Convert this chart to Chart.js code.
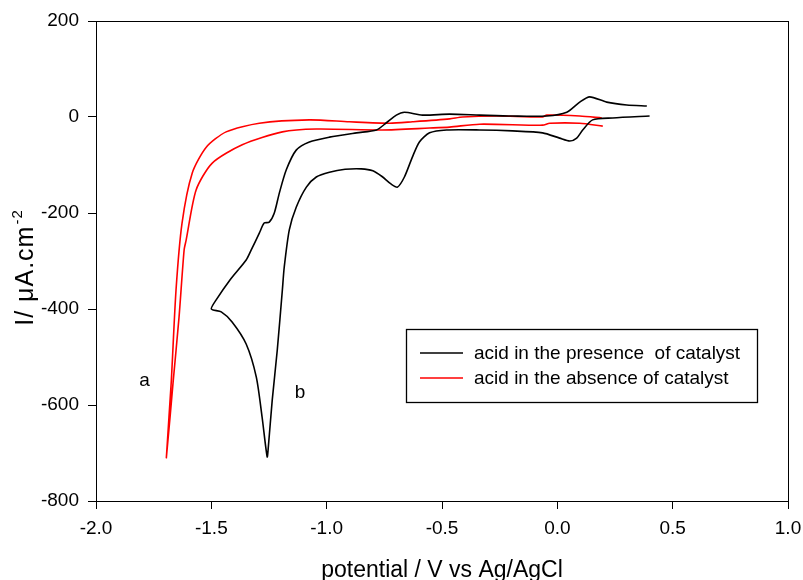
<!DOCTYPE html>
<html lang="en">
<head>
    <meta charset="utf-8">
    <title>CV acid catalyst</title>
    <script src="https://cdn.jsdelivr.net/npm/chart.js"></script>
    <style>
        html, body { margin: 0; padding: 0; background: #fff; overflow: hidden; }
        canvas { display: block; }
    </style>
</head>
<body>
<canvas id="cv" width="803" height="580"></canvas>
<script>
    // curve b: acid in the presence of catalyst (V vs Ag/AgCl, uA/cm2)
    const presV = [0.40, 0.24, 0.153, 0.11, 0.084, 0.054, 0.010, -0.064, -0.194, -0.337, -0.48, -0.554, -0.598, -0.628,
        -0.663, -0.693, -0.72, -0.76, -0.80, -0.85, -0.92, -0.988, -1.045, -1.088, -1.132, -1.162, -1.184, -1.192, -1.214,
        -1.236, -1.253, -1.258, -1.28, -1.305, -1.349, -1.41, -1.457, -1.50,
        -1.479, -1.42, -1.349, -1.327, -1.292, -1.271, -1.249, -1.227, -1.205, -1.175, -1.132, -1.075, -0.988, -0.871,
        -0.784, -0.741, -0.698, -0.663, -0.585, -0.467, -0.337, -0.194, -0.046, 0.041, 0.097, 0.140, 0.214, 0.301, 0.388];
    const presI = [2, -2, -6, -27, -44, -50, -44, -33, -29, -27, -27, -33, -52, -83,
        -125, -146, -140, -124, -112, -108, -109, -115, -125, -146, -188, -235, -313, -360, -485,
        -590, -688, -708, -625, -542, -473, -427, -406, -400,
        -381, -340, -298, -277, -242, -221, -219, -200, -158, -110, -69, -52, -42, -33,
        -27, -12, 4, 10, 4, 6, 4, 2, 2, 10, 31, 42, 31, 25, 23];

    // curve a: acid in the absence of catalyst
    const absV = [0.193, 0.097, -0.046, -0.064, -0.263, -0.411, -0.467, -0.628, -0.728, -0.902, -1.075, -1.292, -1.436,
        -1.522, -1.583, -1.627, -1.653, -1.674, -1.695,
        -1.666, -1.640, -1.618, -1.609, -1.566, -1.496, -1.366, -1.192, -1.045, -0.758, -0.554, -0.467, -0.337,
        -0.064, -0.033, 0.097, 0.197];
    const absI = [-2, 2, 4, 0, 2, 0, -4, -10, -13, -10, -6, -13, -31,
        -63, -117, -221, -360, -554, -710,
        -554, -417, -277, -256, -152, -96, -58, -31, -25, -27, -23, -21, -15,
        -17, -13, -13, -19];

    const xTicks = [-2.0, -1.5, -1.0, -0.5, 0.0, 0.5, 1.0];
    const yTicks = [200, 0, -200, -400, -600, -800];

    const curveTags = [
        { text: 'a', v: -1.79, i: -550 },
        { text: 'b', v: -1.115, i: -575 }
    ];

    const FONT = '"Liberation Sans", Arial, sans-serif';

    const toPts = (xs, ys) => xs.map((v, k) => ({ x: v, y: ys[k] }));

    const extras = {
        id: 'extras',
        afterDraw(chart) {
            const ctx = chart.ctx;
            const a = chart.chartArea;
            const sx = chart.scales.x, sy = chart.scales.y;
            ctx.save();

            // frame
            ctx.strokeStyle = '#000';
            ctx.lineWidth = 1;
            ctx.strokeRect(Math.round(a.left) + 0.5, Math.round(a.top) + 0.5,
                Math.round(a.right - a.left), Math.round(a.bottom - a.top));

            // a / b tags
            ctx.fillStyle = '#000';
            ctx.font = '19px ' + FONT;
            ctx.textAlign = 'center';
            ctx.textBaseline = 'middle';
            curveTags.forEach(t => ctx.fillText(t.text, sx.getPixelForValue(t.v), sy.getPixelForValue(t.i)));

            // legend box
            const bx = 406, by = 329, bw = 351, bh = 73;
            ctx.fillStyle = '#fff';
            ctx.fillRect(bx, by, bw, bh);
            ctx.strokeStyle = '#000';
            ctx.lineWidth = 1.3;
            ctx.strokeRect(bx + 0.5, by + 0.5, bw, bh);
            ctx.textAlign = 'left';
            ctx.font = '19px ' + FONT;
            chart.data.datasets.forEach((ds, k) => {
                const ly = 353 + k * 25;
                ctx.strokeStyle = ds.borderColor;
                ctx.lineWidth = 1.5;
                ctx.beginPath();
                ctx.moveTo(420, ly);
                ctx.lineTo(463, ly);
                ctx.stroke();
                ctx.fillStyle = '#000';
                ctx.fillText(ds.label, 474, ly + 1);
            });

            // x title
            ctx.font = '23px ' + FONT;
            ctx.textAlign = 'center';
            ctx.textBaseline = 'alphabetic';
            ctx.fillText('potential / V vs Ag/AgCl', (a.left + a.right) / 2, 577);

            // y title with superscript
            const main = 'I/ \u03bcA.cm', sup = '-2';
            ctx.translate(33, 268);
            ctx.rotate(-Math.PI / 2);
            ctx.letterSpacing = '1px';
            ctx.font = '25px ' + FONT;
            const w1 = ctx.measureText(main).width;
            ctx.font = '15px ' + FONT;
            const w2 = ctx.measureText(sup).width;
            const x0 = -(w1 + w2) / 2;
            ctx.textAlign = 'left';
            ctx.font = '25px ' + FONT;
            ctx.fillText(main, x0, 0);
            ctx.font = '15px ' + FONT;
            ctx.fillText(sup, x0 + w1 + 1, -11);

            ctx.restore();
        }
    };

    const axisBase = {
        type: 'linear',
        grid: { drawOnChartArea: false, color: '#000', tickLength: 8, tickWidth: 1 },
        border: { display: true, color: '#000', width: 1 },
        title: { display: false }
    };

    new Chart(document.getElementById('cv'), {
        type: 'scatter',
        data: {
            datasets: [{
                label: 'acid in the presence  of catalyst',
                data: toPts(presV, presI),
                showLine: true,
                borderColor: '#000000',
                borderWidth: 1.6,
                pointRadius: 0,
                tension: 0.25,
                fill: false
            }, {
                label: 'acid in the absence of catalyst',
                data: toPts(absV, absI),
                showLine: true,
                borderColor: '#ff0000',
                borderWidth: 1.6,
                pointRadius: 0,
                tension: 0.25,
                fill: false
            }]
        },
        options: {
            responsive: false,
            animation: false,
            devicePixelRatio: 1,
            layout: { padding: { top: 21, right: 15, left: 0, bottom: 0 } },
            plugins: { legend: { display: false }, tooltip: { enabled: false } },
            scales: {
                x: Object.assign({}, axisBase, {
                    position: 'bottom',
                    min: xTicks[0],
                    max: xTicks[xTicks.length - 1],
                    afterBuildTicks: s => { s.ticks = xTicks.map(v => ({ value: v })); },
                    afterFit: s => { s.height = 79; s.paddingLeft = 0; s.paddingRight = 0; },
                    ticks: {
                        color: '#000', padding: 8, maxRotation: 0, autoSkip: false,
                        font: { family: FONT, size: 19 },
                        callback: v => Number(v).toFixed(1)
                    }
                }),
                y: Object.assign({}, axisBase, {
                    position: 'left',
                    min: yTicks[yTicks.length - 1],
                    max: yTicks[0],
                    afterBuildTicks: s => { s.ticks = yTicks.slice().reverse().map(v => ({ value: v })); },
                    afterFit: s => { s.width = 96; s.paddingTop = 0; s.paddingBottom = 0; },
                    ticks: {
                        color: '#000', padding: 9, autoSkip: false,
                        font: { family: FONT, size: 19 },
                        callback: v => String(v)
                    }
                })
            }
        },
        plugins: [extras]
    });
</script>
</body>
</html>
